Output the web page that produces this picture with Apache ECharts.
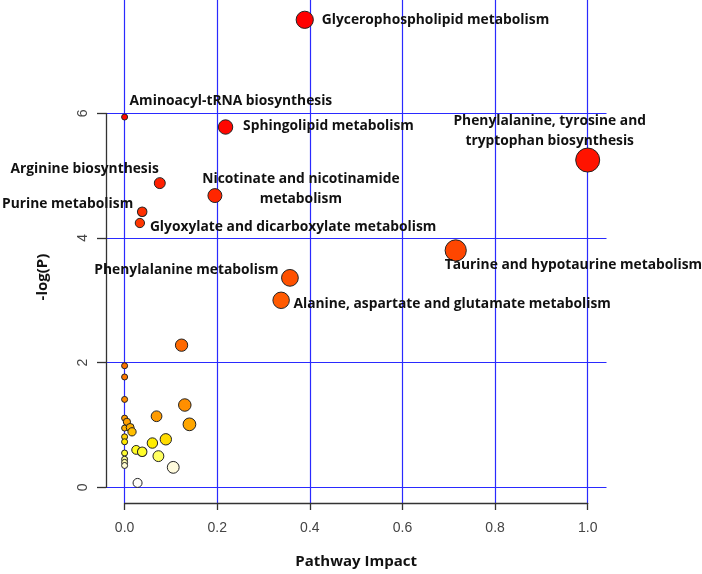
<!DOCTYPE html>
<html>
<head>
<meta charset="utf-8">
<script src="https://cdn.jsdelivr.net/npm/echarts@6/dist/echarts.min.js"></script>
<style>
html,body{margin:0;padding:0;background:#fff;}
#c{width:702px;height:574px;}
</style>
</head>
<body>
<div id="c"></div>
<script>
// ---- data ----
const names = [
  'Glycerophospholipid metabolism',
  'Aminoacyl-tRNA biosynthesis',
  'Sphingolipid metabolism',
  'Phenylalanine, tyrosine and tryptophan biosynthesis',
  'Arginine biosynthesis',
  'Nicotinate and nicotinamide metabolism',
  'Purine metabolism',
  'Glyoxylate and dicarboxylate metabolism',
  'Taurine and hypotaurine metabolism',
  'Phenylalanine metabolism',
  'Alanine, aspartate and glutamate metabolism',
  '', '', '', '', '', '', '', '', '', '', '', '', '', '', '', '', '', '', '', '', '', '', '', '', ''
];
const impact = [
  0.389, 0.0, 0.218, 1.0, 0.076, 0.195, 0.038, 0.033, 0.715, 0.357, 0.338,
  0.123, 0.0, 0.0, 0.0, 0.130, 0.069, 0.0, 0.005, 0.0, 0.012, 0.016, 0.140,
  0.0, 0.0, 0.089, 0.060, 0.025, 0.038, 0.0, 0.073, 0.0, 0.0, 0.0, 0.105, 0.028
];
const logP = [
  7.50, 5.94, 5.78, 5.25, 4.88, 4.68, 4.42, 4.24, 3.80, 3.36, 3.00,
  2.28, 1.95, 1.77, 1.41, 1.32, 1.14, 1.11, 1.05, 0.95, 0.96, 0.89, 1.01,
  0.81, 0.73, 0.77, 0.71, 0.60, 0.57, 0.55, 0.50, 0.45, 0.40, 0.35, 0.32, 0.07
];
const xTicks = [0, 0.2, 0.4, 0.6, 0.8, 1.0];
const yTicks = [0, 2, 4, 6];

// ---- label placement (style) ----
const labelSpec = {
  'Glycerophospholipid metabolism': {align:'left', offset:[17,0]},
  'Aminoacyl-tRNA biosynthesis': {align:'left', offset:[5,-16]},
  'Sphingolipid metabolism': {align:'left', offset:[17.5,-1]},
  'Phenylalanine, tyrosine and tryptophan biosynthesis': {align:'center', offset:[-38,-29], brk:'Phenylalanine, tyrosine and'},
  'Arginine biosynthesis': {align:'right', offset:[-1,-14]},
  'Nicotinate and nicotinamide metabolism': {align:'center', offset:[86,-7], brk:'Nicotinate and nicotinamide'},
  'Purine metabolism': {align:'right', offset:[-9,-8]},
  'Glyoxylate and dicarboxylate metabolism': {align:'left', offset:[10,4.5]},
  'Taurine and hypotaurine metabolism': {align:'left', offset:[-11,14.5]},
  'Phenylalanine metabolism': {align:'right', offset:[-11.5,-7.5]},
  'Alanine, aspartate and glutamate metabolism': {align:'left', offset:[12.3,3.3]}
};

// colour ramp (heat-like) anchors
const anchors = [[0,'#ffffff'],[0.33,'#fffbe0'],[0.45,'#ffff90'],[0.55,'#ffff30'],[0.7,'#fff000'],
  [0.8,'#ffd400'],[0.95,'#ffb000'],[1.05,'#ffa000'],[1.3,'#ff9000'],[1.8,'#ff7800'],[2.3,'#ff6800'],
  [3.0,'#ff5a00'],[3.8,'#ff4600'],[4.4,'#ff3000'],[5.0,'#ff1a00'],[5.6,'#ff0800'],[7.5,'#ff0000']];
function hex2rgb(h){return [parseInt(h.substr(1,2),16),parseInt(h.substr(3,2),16),parseInt(h.substr(5,2),16)];}
const ramp = [];
for (let v = 0; v <= 7.5001; v += 0.05) {
  let k = 0;
  while (k < anchors.length - 2 && anchors[k+1][0] < v) k++;
  const a = anchors[k], b = anchors[k+1];
  const t = Math.max(0, Math.min(1, (v - a[0]) / (b[0] - a[0])));
  const ca = hex2rgb(a[1]), cb = hex2rgb(b[1]);
  ramp.push('rgb(' + ca.map((c,i)=>Math.round(c + (cb[i]-c)*t)).join(',') + ')');
}

const X0 = 124.6, X1 = 587.7, Y0 = 487.3, Y6 = 113.3;
const pxPerX = (X1 - X0);
const gLeft = 106, gRight = 606.5;
const xMinData = (gLeft - X0) / pxPerX, xMaxData = (gRight - X0) / pxPerX;

const FONT = 'Open Sans';
const data = names.map((n, i) => {
  const item = {value: [impact[i], logP[i]], name: n};
  if (n && labelSpec[n]) {
    const s = labelSpec[n];
    item.label = {
      show: true, position: 'inside', align: s.align, verticalAlign: 'middle',
      offset: s.offset,
      formatter: s.brk ? (n.slice(0, s.brk.length) + '\n' + n.slice(s.brk.length + 1)) : n
    };
  }
  return item;
});

const blue = '#2a2aff';
const chart = echarts.init(document.getElementById('c'), null, {renderer: 'canvas'});
chart.setOption({
  backgroundColor: '#ffffff',
  animation: false,
  grid: [
    {left: X0, right: 702 - X1, top: 0, bottom: 574 - 504},
    {left: gLeft, right: 702 - gRight, top: Y6, bottom: 574 - Y0}
  ],
  xAxis: [
    {gridIndex: 0, type: 'value', min: xTicks[0], max: xTicks[xTicks.length-1], interval: 0.2,
     axisLine: {show: true, onZero: false, lineStyle: {color: '#333', width: 1.3}},
     axisTick: {show: true, length: 7, lineStyle: {color: '#333', width: 1.3}},
     axisLabel: {color: '#444', fontSize: 14, fontFamily: 'Liberation Sans', margin: 18,
                 formatter: v => v.toFixed(1)},
     splitLine: {show: true, lineStyle: {color: blue, width: 1.2}},
     name: 'Pathway Impact', nameLocation: 'middle', nameGap: 51,
     nameTextStyle: {color: '#111', fontSize: 15, fontWeight: 'bold', fontFamily: FONT}},
    {gridIndex: 1, type: 'value', min: xMinData, max: xMaxData, show: false, splitLine: {show: false}}
  ],
  yAxis: [
    {gridIndex: 0, type: 'value', min: 0, max: 1, show: false, splitLine: {show: false}},
    {gridIndex: 1, type: 'value', min: yTicks[0], max: yTicks[yTicks.length-1], interval: 2,
     axisLine: {show: true, onZero: false, lineStyle: {color: '#333', width: 1.3}},
     axisTick: {show: true, length: 9, lineStyle: {color: '#333', width: 1.3}},
     axisLabel: {color: '#444', fontSize: 14, fontFamily: 'Liberation Sans', margin: 16, rotate: 90},
     splitLine: {show: true, lineStyle: {color: blue, width: 1.2}}}
  ],
  visualMap: {show: false, type: 'continuous', dimension: 1, min: 0, max: 7.5,
              seriesIndex: 0, inRange: {color: ramp}},
  graphic: [{type: 'text', x: 43, y: 277, rotation: Math.PI / 2,
    style: {text: '-log(P)', fill: '#111', font: 'bold 15px "Open Sans"', textAlign: 'center', textVerticalAlign: 'middle'}}],
  series: [{
    type: 'scatter', xAxisIndex: 1, yAxisIndex: 1, clip: false,
    symbolSize: v => 2 * (3 + 9 * Math.sqrt(v[0])),
    itemStyle: {borderColor: '#222', borderWidth: 1, opacity: 1},
    label: {show: false, color: '#111', fontFamily: FONT, fontWeight: 'bold', fontSize: 13.8, lineHeight: 20},
    emphasis: {disabled: true},
    data: data
  }]
});
</script>
</body>
</html>
